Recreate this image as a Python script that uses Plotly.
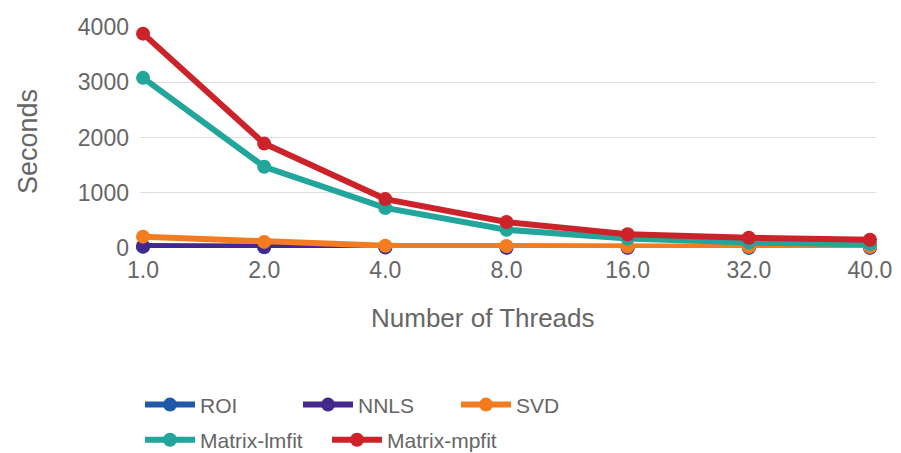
import plotly.graph_objects as go

threads = ["1.0", "2.0", "4.0", "8.0", "16.0", "32.0", "40.0"]
roi = [20, 12, 8, 5, 4, 3, 3]
nnls = [35, 22, 15, 10, 8, 6, 6]
svd = [205, 110, 40, 35, 25, 20, 20]
matrix_lmfit = [3080, 1470, 725, 330, 170, 100, 70]
matrix_mpfit = [3880, 1890, 885, 470, 250, 185, 150]

series = [
    ("ROI", roi, "#1f5aa6", "legend"),
    ("NNLS", nnls, "#45288c", "legend"),
    ("SVD", svd, "#f47c20", "legend"),
    ("Matrix-lmfit", matrix_lmfit, "#22a59b", "legend2"),
    ("Matrix-mpfit", matrix_mpfit, "#cc2229", "legend2"),
]

fig = go.Figure()
for name, vals, col, lg in series:
    fig.add_trace(go.Scatter(
        x=threads, y=vals, name=name, mode="lines+markers",
        line=dict(color=col, width=6),
        marker=dict(color=col, size=14),
        cliponaxis=False, legend=lg,
    ))

font = "Liberation Sans"
gray = "#666666"
# the page body has an 8px margin, so the figure is sized to fit the window
fig.update_layout(
    width=893, height=445,
    margin=dict(l=132, r=25, t=19, b=205, autoexpand=False),
    paper_bgcolor="white", plot_bgcolor="white",
    font=dict(family=font, color=gray, size=20),
    xaxis=dict(
        type="category", range=[-0.025, 6.05],
        showgrid=False, showline=False, zeroline=False,
        tickfont=dict(size=23, color=gray),
        ticklabelstandoff=6,
    ),
    yaxis=dict(
        range=[0, 4000], tickvals=[0, 1000, 2000, 3000, 4000],
        showgrid=True, gridcolor="#dddddd", gridwidth=1,
        zeroline=False, showline=False,
        tickfont=dict(size=23, color=gray),
        ticklabelstandoff=10,
    ),
    annotations=[
        dict(text="Number of Threads", xref="paper", yref="paper",
             x=0.466, y=-0.317, xanchor="center", yanchor="middle",
             showarrow=False, font=dict(size=26, color=gray, family=font)),
        dict(text="Seconds", xref="paper", yref="paper", textangle=-90,
             x=-0.152, y=0.48, xanchor="center", yanchor="middle",
             showarrow=False, font=dict(size=27, color=gray, family=font)),
    ],
    legend=dict(
        orientation="h", x=0.0, xanchor="left",
        yref="container", y=0.108, yanchor="middle",
        entrywidth=93, itemwidth=50,
        font=dict(size=21, color=gray, family=font),
        bgcolor="rgba(0,0,0,0)",
    ),
    legend2=dict(
        orientation="h", x=0.0, xanchor="left",
        yref="container", y=0.029, yanchor="middle",
        entrywidth=122, itemwidth=50,
        font=dict(size=21, color=gray, family=font),
        bgcolor="rgba(0,0,0,0)",
    ),
    showlegend=True,
)

fig.write_html("out.html")
